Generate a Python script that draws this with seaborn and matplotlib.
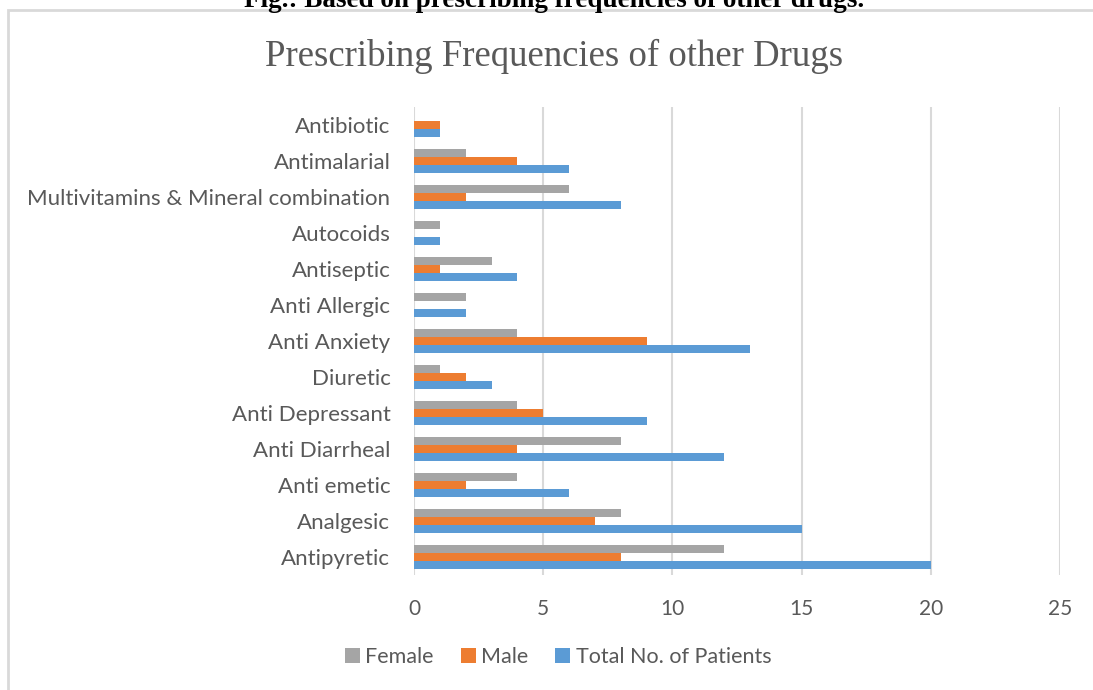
import matplotlib
matplotlib.use("Agg")
import matplotlib.pyplot as plt
from matplotlib.patches import Patch, Rectangle
import seaborn as sns
import pandas as pd

drugs = ["Antibiotic", "Antimalarial", "Multivitamins & Mineral combination",
         "Autocoids", "Antiseptic", "Anti Allergic", "Anti Anxiety", "Diuretic",
         "Anti Depressant", "Anti Diarrheal", "Anti emetic", "Analgesic", "Antipyretic"]
female = [0, 2, 6, 1, 3, 2, 4, 1, 4, 8, 4, 8, 12]
male = [1, 4, 2, 0, 1, 0, 9, 2, 5, 4, 2, 7, 8]
total = [1, 6, 8, 1, 4, 2, 13, 3, 9, 12, 6, 15, 20]
series_names = ["Female", "Male", "Total No. of Patients"]
colors = ["#A5A5A5", "#ED7D31", "#5B9BD5"]
xticks = [0, 5, 10, 15, 20, 25]

rows = []
for name, vals in zip(series_names, [female, male, total]):
    for d, v in zip(drugs, vals):
        rows.append({"drug": d, "series": name, "value": v})
df = pd.DataFrame(rows)

sns.set_theme(style="white")
plt.rcParams["font.family"] = ["Lato", "DejaVu Sans"]

W, H = 1093, 690
fig = plt.figure(figsize=(W / 100, H / 100), dpi=100)
ax = fig.add_axes([414 / W, 1 - 575 / H, 646 / W, 468 / H])

sns.barplot(data=df, x="value", y="drug", hue="series", order=drugs,
            hue_order=series_names, palette=colors, orient="h", width=0.66,
            linewidth=0, saturation=1, ax=ax, legend=False, errorbar=None)

ax.set_xlim(0, 25)
ax.set_xticks(xticks)
ax.set_xlabel("")
ax.set_ylabel("")
for s in ax.spines.values():
    s.set_visible(False)
ax.xaxis.grid(True, color="#D9D9D9", linewidth=1.5)
ax.yaxis.grid(False)
ax.set_axisbelow(True)
ax.tick_params(axis="x", length=0, pad=17, labelsize=15, labelcolor="#595959")
ax.tick_params(axis="y", length=0, pad=17, labelsize=16, labelcolor="#595959")

handles = [Patch(facecolor=c, edgecolor="none") for c in colors]
fig.legend(handles, series_names, loc="center", bbox_to_anchor=(558 / W, 1 - 657 / H),
           ncol=3, frameon=False, fontsize=15.5, labelcolor="#595959",
           handlelength=0.7, handleheight=0.7, handletextpad=0.25, columnspacing=1.25)

fig.text(554 / W, 1 - 66 / H, "Prescribing Frequencies of other Drugs",
         ha="center", va="baseline", fontsize=26.5, color="#595959",
         family="Liberation Serif")

fig.text(554 / W, 1 - 7 / H, "Fig.: Based on prescribing frequencies of other drugs.",
         ha="center", va="baseline", fontsize=19.5, fontweight="bold", color="black",
         family="Liberation Serif")

fig.patches.append(Rectangle((8 / W, -0.1), 1.2, 1 - 9.5 / H + 0.1, transform=fig.transFigure,
                             fill=False, edgecolor="#D9D9D9", linewidth=2, zorder=0))

fig.savefig("out.png", dpi=100)
